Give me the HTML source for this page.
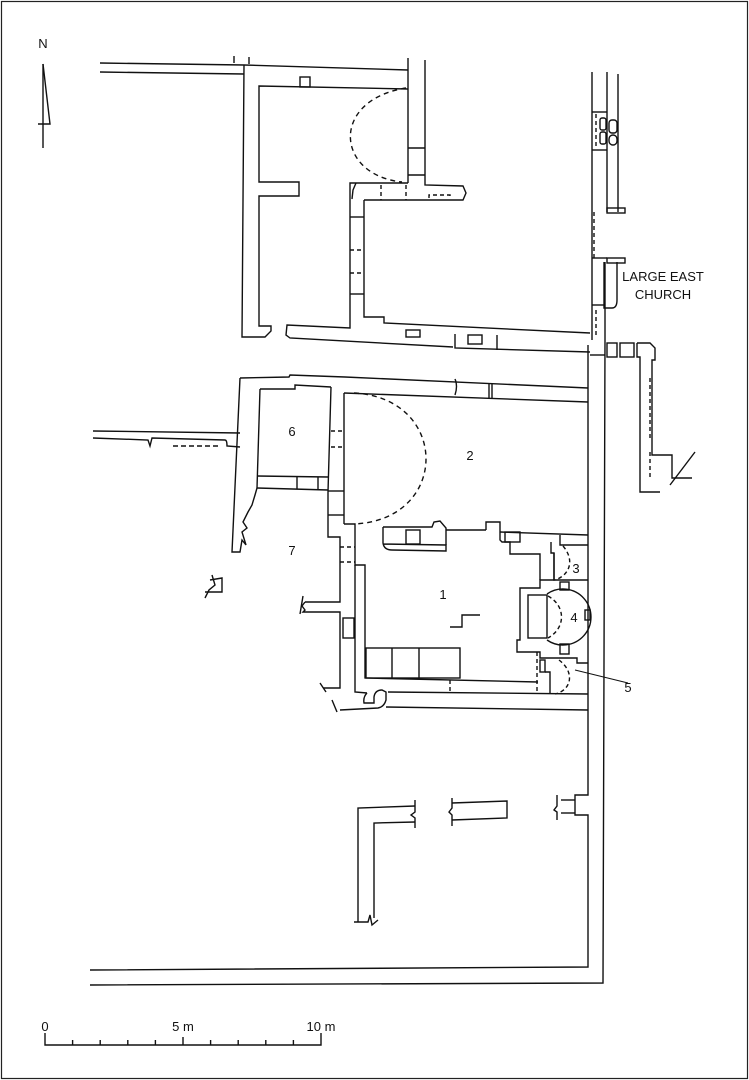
<!DOCTYPE html>
<html><head><meta charset="utf-8">
<style>
html,body{margin:0;padding:0;background:#fff;}
svg{display:block;}
text{font-family:"Liberation Sans Narrow","Liberation Sans",sans-serif;fill:#111;}
</style></head><body>
<svg width="749" height="1080" viewBox="0 0 749 1080" xmlns="http://www.w3.org/2000/svg">
<rect x="1.5" y="1.5" width="746" height="1077" fill="none" stroke="#222" stroke-width="1.2"/>
<g fill="none" stroke="#111" stroke-width="1.4" stroke-linejoin="miter">
<line x1="43" y1="64" x2="43" y2="148"/>
<polyline points="43,64 50,124 38,124"/>
<polyline points="100,63 244,65 408,70"/>
<polyline points="100,72 244,74"/>
<line x1="234" y1="63" x2="234" y2="56"/><line x1="249" y1="64" x2="249" y2="57"/>
<polyline points="244,65 242,337 265,337 271,331 271,326 259,326 259,196 299,196 299,182 259,182 259,86 408,89"/>
<rect x="300" y="77" width="10" height="10"/>
<line x1="408" y1="58" x2="408" y2="183"/>
<polyline points="425,60 425,185 463,186 466,193 463,200 364,200"/>
<line x1="408" y1="148" x2="425" y2="148"/><line x1="408" y1="175" x2="425" y2="175"/>
<polyline points="408,183 350,183 350,328 287,325 286,335 290,338 453,347"/>
<polyline points="356,183 353,190 352,199"/>
<polyline points="364,200 364,317 384,317 384,323 590,333"/>
<line x1="350" y1="217" x2="364" y2="217"/><line x1="350" y1="294" x2="364" y2="294"/>
<line x1="350" y1="250" x2="364" y2="250" stroke-dasharray="4,3"/><line x1="350" y1="273" x2="364" y2="273" stroke-dasharray="4,3"/>
<line x1="381" y1="185" x2="381" y2="200" stroke-dasharray="4,3"/><line x1="406" y1="185" x2="406" y2="200" stroke-dasharray="4,3"/>
<polyline points="429,198 429,195 450,195 450,198" stroke-dasharray="4,3"/>
<rect x="406" y="330" width="14" height="7"/>
<polyline points="455,334 455,348 590,352"/>
<rect x="468" y="335" width="14" height="9"/>
<line x1="497" y1="335" x2="497" y2="350"/>
<path d="M406,88 C330,100 335,175 402,182" stroke-dasharray="5,4"/>
<line x1="592" y1="72" x2="592" y2="340"/>
<line x1="607" y1="72" x2="607" y2="212"/>
<line x1="618" y1="74" x2="618" y2="212"/>
<line x1="592" y1="112" x2="607" y2="112"/><line x1="592" y1="150" x2="607" y2="150"/>
<line x1="596" y1="114" x2="596" y2="148" stroke-dasharray="4,3"/>
<rect x="600" y="118" width="6" height="12" rx="2"/><rect x="600" y="132" width="6" height="12" rx="2"/>
<rect x="609" y="120" width="8" height="13" rx="3"/><rect x="609" y="135" width="8" height="10" rx="4"/>
<rect x="607" y="208" width="18" height="5"/>
<line x1="594" y1="212" x2="594" y2="258" stroke-dasharray="4,3"/>
<line x1="592" y1="258" x2="607" y2="258"/>
<rect x="607" y="258" width="18" height="5"/>
<path d="M604,262 L604,308 L612,308 Q617,308 617,300 L617,262"/>
<line x1="592" y1="305" x2="605" y2="305"/>
<line x1="605" y1="262" x2="605" y2="340"/>
<line x1="596" y1="310" x2="596" y2="338" stroke-dasharray="4,3"/>
<rect x="607" y="343" width="10" height="14"/><rect x="620" y="343" width="14" height="14"/>
<polyline points="637,343 650,343 655,348 655,360 652,360 652,455 672,455 672,478 692,478"/>
<polyline points="637,343 637,357 640,357 640,492 660,492"/>
<line x1="650" y1="378" x2="650" y2="440" stroke-dasharray="4,3"/>
<line x1="650" y1="452" x2="650" y2="478" stroke-dasharray="4,3"/>
<line x1="670" y1="485" x2="695" y2="452"/>
<polyline points="93,431 240,433"/>
<path d="M93,438 L148,440 L150,446 L152,438 L225,440 Q227,440 227,446 L240,447"/>
<line x1="173" y1="446" x2="220" y2="446" stroke-dasharray="5,3"/>
<polyline points="240,378 289,377 290,375 345,377 588,388"/>
<path d="M240,378 L232,552 L240,552 L242,540 L246,545 L242,532 L247,528 L243,522 L248,512 L252,505 L255,495 L257,488"/>
<polyline points="260,389 295,389 295,385 331,387"/>
<line x1="260" y1="389" x2="257" y2="488"/>
<polyline points="257,476 328,477"/><polyline points="257,488 328,490"/>
<line x1="297" y1="477" x2="297" y2="489"/><line x1="318" y1="477" x2="318" y2="490"/>
<polyline points="331,387 328,492 328,537 340,537 340,602 305,602"/>
<path d="M305,602 L302,606 L305,610 L303,612 L340,612 L340,688 L323,688"/>
<path d="M303,596 L300,614"/>
<line x1="320" y1="683" x2="326" y2="692"/>
<line x1="331" y1="431" x2="344" y2="431" stroke-dasharray="4,3"/>
<line x1="331" y1="447" x2="344" y2="447" stroke-dasharray="4,3"/>
<line x1="328" y1="491" x2="344" y2="491"/>
<line x1="328" y1="515" x2="344" y2="515"/>
<line x1="340" y1="547" x2="355" y2="547" stroke-dasharray="4,3"/>
<line x1="340" y1="562" x2="355" y2="562" stroke-dasharray="4,3"/>
<rect x="343" y="618" width="11" height="20"/>
<polyline points="210,580 222,578 222,592 205,592"/>
<path d="M212,575 L215,585 L209,590 L205,598"/>
<polyline points="344,393 588,402"/>
<path d="M455,379 Q458,386 455,395"/>
<line x1="489" y1="384" x2="489" y2="398"/><line x1="492" y1="384" x2="492" y2="398"/>
<line x1="344" y1="393" x2="344" y2="524"/>
<polyline points="344,524 355,524 355,565 365,565 365,678 538,682"/>
<path d="M354,393 C450,398 450,520 354,524" stroke-dasharray="5,4"/>
<path d="M383,527 L383,543 Q384,550 392,550 L446,551 L446,545 L383,544"/>
<polyline points="383,527 432,527 434,522 440,521 446,528 446,545"/>
<rect x="406" y="530" width="14" height="14"/>
<polyline points="446,530 486,530"/>
<polyline points="486,530 486,522 500,522 500,540 502,542 510,542 510,554 540,554 540,580"/>
<rect x="505" y="532" width="15" height="10"/>
<polyline points="500,532 588,535"/>
<polyline points="560,535 560,545 588,545"/>
<polyline points="551,542 551,553 554,553 554,580 540,580 540,588 520,588 520,640 517,640 517,652 537,652"/>
<polyline points="554,553 554,580 588,580"/>
<path d="M563,546 C575,560 570,575 555,580" stroke-dasharray="4,3"/>
<rect x="528" y="595" width="19" height="43"/>
<path d="M547,594 A28,28 0 1 1 547,640"/>
<path d="M548,596 C566,606 566,628 548,638" stroke-dasharray="4,3"/>
<rect x="560" y="582" width="9" height="8"/><rect x="560" y="644" width="9" height="10"/>
<rect x="585" y="610" width="5" height="10"/>
<polyline points="537,652 540,652 540,658 577,658 577,663 588,663"/>
<rect x="540" y="660" width="5" height="12"/>
<polyline points="545,672 550,672 550,693"/>
<line x1="537" y1="652" x2="537" y2="693" stroke-dasharray="4,3"/>
<path d="M559,660 C575,672 572,690 555,694" stroke-dasharray="4,3"/>
<line x1="575" y1="670" x2="628" y2="683" stroke-width="1"/>
<polyline points="450,627 462,627 462,615 480,615"/>
<rect x="366" y="648" width="94" height="30"/>
<line x1="392" y1="648" x2="392" y2="678"/><line x1="419" y1="648" x2="419" y2="678"/>
<line x1="450" y1="680" x2="450" y2="692" stroke-dasharray="4,3"/>
<polyline points="355,565 355,692 367,693"/>
<path d="M388,692 L588,694"/>
<path d="M367,693 Q363,697 364,703 L374,703 L374,697 Q375,690 382,690 L386,692 L386,700 Q384,707 378,708 L340,710"/>
<line x1="332" y1="700" x2="337" y2="712"/>
<line x1="386" y1="707" x2="588" y2="710"/>
<polyline points="588,345 588,795 575,795 575,815 588,815 588,967 90,970"/>
<polyline points="605,340 603,983 90,985"/>
<line x1="590" y1="355" x2="605" y2="355"/>
<polyline points="415,806 358,808 358,922"/>
<polyline points="415,822 374,823 374,918"/>
<path d="M415,800 L415,812 L411,815 L415,818 L415,828"/>
<path d="M354,922 L368,922 L370,915 L372,925 L378,920"/>
<path d="M452,803 L507,801 L507,818 L452,820"/>
<path d="M452,798 L452,808 L449,812 L452,815 L452,826"/>
<path d="M561,800 L575,800"/><path d="M561,813 L575,813"/>
<path d="M557,795 L557,806 L554,810 L557,812 L557,820"/>
<polyline points="45,1033 45,1045 321,1045 321,1033"/>
<line x1="72.6" y1="1045" x2="72.6" y2="1040"/><line x1="100.2" y1="1045" x2="100.2" y2="1040"/>
<line x1="127.8" y1="1045" x2="127.8" y2="1040"/><line x1="155.4" y1="1045" x2="155.4" y2="1040"/>
<line x1="183" y1="1045" x2="183" y2="1037"/><line x1="210.6" y1="1045" x2="210.6" y2="1040"/>
<line x1="238.2" y1="1045" x2="238.2" y2="1040"/><line x1="265.8" y1="1045" x2="265.8" y2="1040"/>
<line x1="293.4" y1="1045" x2="293.4" y2="1040"/>
</g>
<g font-size="13">
<text x="43" y="48" text-anchor="middle">N</text>
<text x="292" y="436" text-anchor="middle">6</text>
<text x="470" y="460" text-anchor="middle">2</text>
<text x="292" y="555" text-anchor="middle">7</text>
<text x="443" y="599" text-anchor="middle">1</text>
<text x="576" y="573" text-anchor="middle">3</text>
<text x="574" y="622" text-anchor="middle">4</text>
<text x="628" y="692" text-anchor="middle">5</text>
<text x="663" y="281" text-anchor="middle">LARGE EAST</text>
<text x="663" y="299" text-anchor="middle">CHURCH</text>
<text x="45" y="1031" text-anchor="middle">0</text>
<text x="183" y="1031" text-anchor="middle">5 m</text>
<text x="321" y="1031" text-anchor="middle">10 m</text>
</g>
</svg>
</body></html>
